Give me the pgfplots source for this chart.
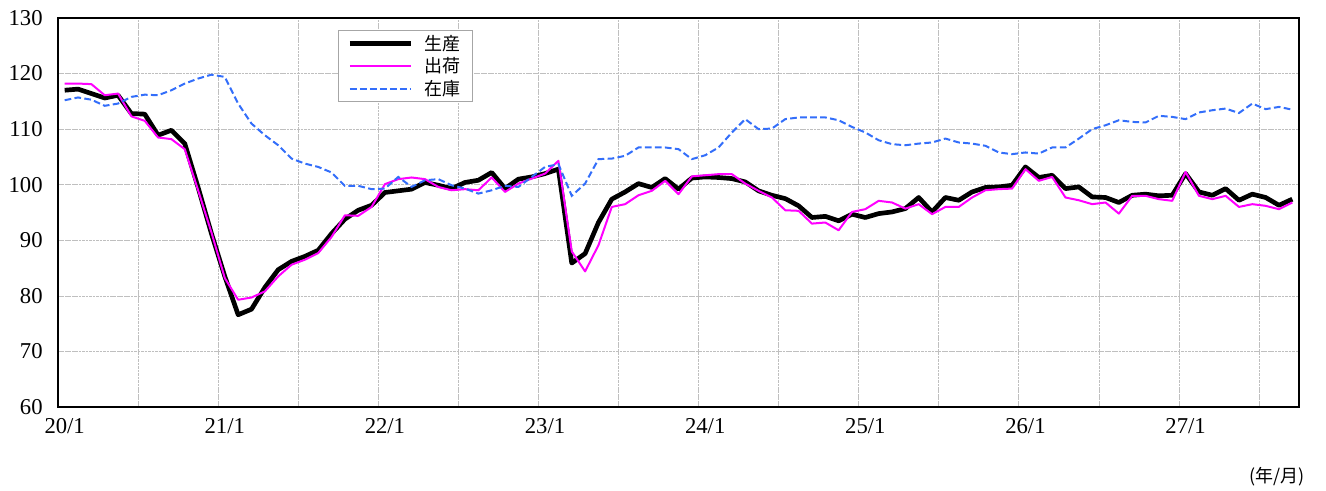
\documentclass[border=0pt]{standalone}
\usepackage{pgfplots}
\pgfplotsset{compat=1.18}
\usepackage{pgfplotstable}
\usepackage{fontspec}
\setmainfont{Liberation Serif}
\newfontfamily\jp{Noto Sans CJK JP}
\definecolor{invblue}{RGB}{51,110,250}
\definecolor{shipmag}{RGB}{255,0,255}
\pgfplotstableread{
x p s z
0.5 117.0 118.2 115.2
1.5 117.2 118.2 115.7
2.5 116.4 118.1 115.3
3.5 115.6 116.1 114.2
4.5 116.1 116.4 114.6
5.5 112.8 112.3 115.8
6.5 112.7 111.5 116.2
7.5 108.9 108.5 116.1
8.5 109.8 108.2 117.0
9.5 107.4 106.4 118.2
10.5 99.5 99.0 119.1
11.5 91.2 91.4 119.8
12.5 83.5 83.2 119.4
13.5 76.6 79.3 114.6
14.5 77.6 79.7 111.0
15.5 81.5 80.8 108.9
16.5 84.7 83.5 107.1
17.5 86.2 85.6 104.7
18.5 87.1 86.5 103.8
19.5 88.2 87.7 103.2
20.5 91.2 90.6 102.2
21.5 93.8 94.5 99.8
22.5 95.4 94.4 99.8
23.5 96.3 96.0 99.2
24.5 98.6 100.1 99.3
25.5 98.9 101.0 101.4
26.5 99.2 101.3 99.6
27.5 100.4 101.0 100.8
28.5 99.9 99.6 101.0
29.5 99.3 99.0 99.9
30.5 100.4 99.2 99.3
31.5 100.8 99.0 98.4
32.5 102.2 101.3 99.0
33.5 99.3 98.7 99.8
34.5 101.0 100.2 99.6
35.5 101.4 101.1 101.4
36.5 102.0 102.0 103.2
37.5 102.8 104.3 103.7
38.5 85.9 88.0 98.0
39.5 87.6 84.4 100.2
40.5 93.2 89.1 104.6
41.5 97.4 96.0 104.7
42.5 98.7 96.5 105.2
43.5 100.2 98.1 106.7
44.5 99.5 98.9 106.7
45.5 101.1 100.7 106.7
46.5 99.2 98.3 106.4
47.5 101.2 101.5 104.6
48.5 101.4 101.7 105.3
49.5 101.3 101.9 106.7
50.5 101.1 101.9 109.4
51.5 100.5 100.2 111.8
52.5 98.9 98.9 110.0
53.5 98.1 97.7 110.1
54.5 97.5 95.4 111.8
55.5 96.2 95.3 112.1
56.5 94.1 93.0 112.1
57.5 94.3 93.2 112.1
58.5 93.5 91.8 111.6
59.5 94.7 95.1 110.4
60.5 94.1 95.6 109.4
61.5 94.8 97.1 108.0
62.5 95.1 96.8 107.3
63.5 95.7 95.7 107.1
64.5 97.7 96.5 107.4
65.5 95.1 94.7 107.6
66.5 97.7 96.0 108.3
67.5 97.2 96.0 107.6
68.5 98.7 97.7 107.4
69.5 99.5 99.0 107.0
70.5 99.6 99.2 105.8
71.5 99.9 99.3 105.5
72.5 103.2 102.8 105.8
73.5 101.3 100.7 105.6
74.5 101.7 101.4 106.7
75.5 99.3 97.7 106.7
76.5 99.6 97.2 108.3
77.5 97.8 96.5 110.0
78.5 97.7 96.8 110.7
79.5 96.8 94.8 111.6
80.5 98.1 98.0 111.3
81.5 98.3 98.0 111.2
82.5 98.0 97.4 112.4
83.5 98.1 97.1 112.2
84.5 102.0 102.3 111.8
85.5 98.7 98.0 113.0
86.5 98.1 97.4 113.4
87.5 99.3 98.0 113.7
88.5 97.2 96.0 112.9
89.5 98.3 96.5 114.6
90.5 97.7 96.2 113.6
91.5 96.3 95.6 114.0
92.5 97.4 96.8 113.5
}\data
\begin{document}
\begin{tikzpicture}
\begin{axis}[
  scale only axis,
  width=930.75pt, height=291.75pt,
  xmin=0, xmax=93, ymin=60, ymax=130,
  xtick={0,6,...,90},
  xticklabels={20/1,,21/1,,22/1,,23/1,,24/1,,25/1,,26/1,,27/1,},
  ytick={60,70,...,130},
  grid=major,
  major grid style={gray!50, line width=0.5pt, dash pattern=on 2pt off 0.6pt},
  major tick length=0pt,
  axis line style={line width=1.5pt},
  tick label style={font=\fontsize{17}{20}\selectfont},
  /pgf/number format/assume math mode=true,
  xticklabel style={xshift=5pt, yshift=-5pt},
  yticklabel style={xshift=-8pt},
  legend style={at={(0.2256,0.969)}, anchor=north west, draw=gray!70, line width=0.5pt,
    font=\jp\fontsize{13.5}{15}\selectfont, inner xsep=7pt, inner ysep=1.5pt,
    nodes={inner sep=2pt}, row sep=0pt, column sep=6pt},
  legend cell align=left,
  legend image code/.code={\draw[#1] (0pt,0pt) -- (46pt,0pt);},
]
\addplot[black, line width=3.5pt, line join=round] table[x=x,y=p]{\data};
\addlegendentry{生産}
\addplot[shipmag, line width=1.5pt, line join=round] table[x=x,y=s]{\data};
\addlegendentry{出荷}
\addplot[invblue, line width=1.5pt, dash pattern=on 5pt off 2.5pt] table[x=x,y=z]{\data};
\addlegendentry{在庫}
\end{axis}
\node[font=\jp\fontsize{13.5}{15}\selectfont] at ([xshift=-16.5pt,yshift=-52.5pt]current axis.south east) {(年/月)};
\path (current axis.south west) +(-43.5pt,-59.25pt) (current axis.north east) +(20.25pt,13.5pt);
\end{tikzpicture}
\end{document}
